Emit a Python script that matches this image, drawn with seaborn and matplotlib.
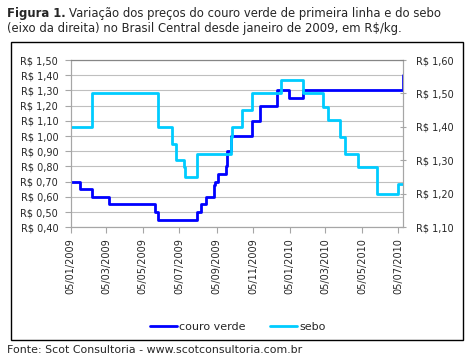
import pandas as pd
import matplotlib
matplotlib.use("Agg")
import matplotlib.pyplot as plt
import matplotlib.dates as mdates
from matplotlib.patches import Rectangle
from matplotlib.lines import Line2D
from matplotlib.ticker import FuncFormatter
import seaborn as sns

# Couro verde (eixo esquerdo), R$/kg
couro_datas = ["2009-01-05", "2009-01-21", "2009-02-09", "2009-03-09", "2009-05-26",
               "2009-05-30", "2009-08-03", "2009-08-10", "2009-08-18", "2009-08-31",
               "2009-09-03", "2009-09-08", "2009-09-21", "2009-09-22", "2009-09-29",
               "2009-11-03", "2009-11-17", "2009-12-14", "2010-01-04", "2010-01-27",
               "2010-07-12", "2010-07-13"]
couro_valores = [0.70, 0.65, 0.60, 0.55, 0.50,
                 0.45, 0.50, 0.55, 0.60, 0.68,
                 0.70, 0.75, 0.80, 0.90, 1.00,
                 1.10, 1.20, 1.30, 1.25, 1.30,
                 1.30, 1.40]

# Sebo (eixo da direita), R$/kg
sebo_datas = ["2009-01-05", "2009-02-09", "2009-05-31", "2009-06-22", "2009-06-29",
              "2009-07-13", "2009-07-15", "2009-08-03", "2009-09-29", "2009-09-30",
              "2009-10-18", "2009-11-03", "2009-12-21", "2010-01-27", "2010-03-01",
              "2010-03-09", "2010-03-29", "2010-04-07", "2010-04-28", "2010-05-31",
              "2010-07-05", "2010-07-13"]
sebo_valores = [1.40, 1.50, 1.40, 1.35, 1.30,
                1.28, 1.25, 1.32, 1.37, 1.40,
                1.45, 1.50, 1.54, 1.50, 1.46,
                1.42, 1.37, 1.32, 1.28, 1.20,
                1.23, 1.23]

tick_datas = ["2009-01-05", "2009-03-05", "2009-05-05", "2009-07-05", "2009-09-05",
              "2009-11-05", "2010-01-05", "2010-03-05", "2010-05-05", "2010-07-05"]

cor_couro = "#0000FF"
cor_sebo = "#00CCFF"

df_couro = pd.DataFrame({"data": pd.to_datetime(couro_datas), "valor": couro_valores})
df_sebo = pd.DataFrame({"data": pd.to_datetime(sebo_datas), "valor": sebo_valores})

sns.set_style("white")
plt.rcParams["font.family"] = ["DejaVu Sans"]

fig = plt.figure(figsize=(4.77, 3.60), dpi=100)
ax = fig.add_axes([70.7 / 477, 1 - 227.3 / 360, (403.3 - 70.7) / 477, (227.3 - 60) / 360])

sns.lineplot(data=df_couro, x="data", y="valor", ax=ax, color=cor_couro,
             linewidth=2.0, drawstyle="steps-post", estimator=None)
ax2 = ax.twinx()
sns.lineplot(data=df_sebo, x="data", y="valor", ax=ax2, color=cor_sebo,
             linewidth=2.0, drawstyle="steps-post", estimator=None)

ax.set_xlim(pd.Timestamp("2009-01-05"), pd.Timestamp("2010-07-13"))
ax.set_ylim(0.40, 1.50)
ax2.set_ylim(1.10, 1.60)
ax.set_yticks([0.40 + 0.10 * i for i in range(12)])
ax2.set_yticks([1.10 + 0.10 * i for i in range(6)])

fmt = FuncFormatter(lambda v, p: "R$ " + f"{v:.2f}".replace(".", ","))
ax.yaxis.set_major_formatter(fmt)
ax2.yaxis.set_major_formatter(fmt)

ax.set_xticks(pd.to_datetime(tick_datas))
ax.xaxis.set_major_formatter(mdates.DateFormatter("%d/%m/%Y"))
plt.setp(ax.get_xticklabels(), rotation=90)

ax.set_xlabel("")
ax.set_ylabel("")
ax2.set_ylabel("")

ax.grid(axis="y", color="#BFBFBF", linewidth=0.8)
ax.set_axisbelow(True)

for a in (ax, ax2):
    for s in a.spines.values():
        s.set_color("#A6A6A6")
        s.set_linewidth(0.8)
    a.spines["top"].set_color("#868686")

ax.tick_params(axis="y", labelsize=7, length=4, color="#A6A6A6", direction="out", pad=5, left=True)
ax.tick_params(axis="x", labelsize=7, length=4, color="#A6A6A6", direction="out", pad=4, bottom=True)
ax2.tick_params(axis="y", labelsize=7, length=4, color="#A6A6A6", direction="inout", pad=7, right=True)

# legenda
handles = [Line2D([], [], color=cor_couro, linewidth=2.0),
           Line2D([], [], color=cor_sebo, linewidth=2.0)]
fig.legend(handles, ["couro verde", "sebo"], loc="center", ncol=2,
           bbox_to_anchor=(238 / 477, 1 - 327 / 360), frameon=False,
           fontsize=8, handlelength=2.4, handletextpad=0.2, columnspacing=2.2)

# moldura
fig.patches.append(Rectangle((10.7 / 477, 1 - 340 / 360), 452.6 / 477, 297.7 / 360,
                             transform=fig.transFigure, fill=False,
                             edgecolor="black", linewidth=1.0))

# titulo
t1 = fig.text(7 / 477, 1 - 17.3 / 360, "Figura 1.", fontsize=8.4, fontweight="bold", va="baseline")
fig.canvas.draw()
bb = t1.get_window_extent(renderer=fig.canvas.get_renderer())
fig.text(bb.x1 / 477 + 3 / 477, 1 - 17.3 / 360,
         "Variação dos preços do couro verde de primeira linha e do sebo",
         fontsize=8.4, va="baseline")
fig.text(7 / 477, 1 - 31.7 / 360,
         "(eixo da direita) no Brasil Central desde janeiro de 2009, em R$/kg.",
         fontsize=8.4, va="baseline")

fig.text(7 / 477, 1 - 352.7 / 360, "Fonte: Scot Consultoria - www.scotconsultoria.com.br",
         fontsize=7.9, va="baseline")

fig.savefig("out.png", dpi=100)
